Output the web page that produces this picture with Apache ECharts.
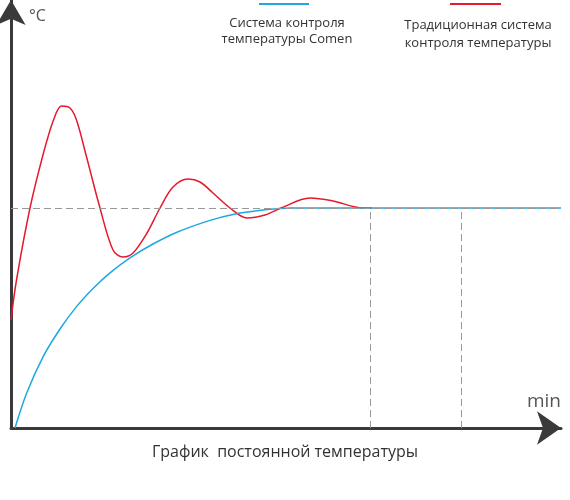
<!DOCTYPE html>
<html>
<head>
<meta charset="utf-8">
<script src="https://cdn.jsdelivr.net/npm/echarts@6/dist/echarts.min.js"></script>
<style>
  html, body { margin: 0; padding: 0; background: #fff; }
  #chart { width: 570px; height: 500px; }
</style>
</head>
<body>
<div id="chart"></div>
<script>
// time (min) / temperature pairs, schematic units
var comenCurve = [
  [0.8, 0], [3.14, 8.75], [6.46, 17.9], [9.8, 24.75], [13.14, 30.4], [16.46, 34.95], [19.8, 38.8],
  [23.8, 42.55], [28.4, 46], [33.2, 48.95], [39.8, 51.9], [44.4, 53.4], [51.2, 54.6],
  [55.8, 55], [70, 55], [90, 55], [110, 55]
];
var classicCurve = [
  [0, 27], [1.1, 37], [3.8, 55], [6.5, 68.75], [8.5, 77], [10.1, 80.5], [11.8, 80],
  [13.1, 77], [15.1, 67.8], [17.8, 55], [20.4, 44.5], [22.4, 42.75], [24.4, 43.75],
  [27.2, 48.75], [29.8, 55], [32.4, 60.25], [35.4, 62.25], [37.8, 61.5], [40.4, 58.75],
  [43.8, 55], [47.2, 52.5], [50.8, 53.25], [54, 55], [59.8, 57.5], [64.4, 56.75],
  [70.4, 55], [72.2, 55]
];
var setpoint = 55;
var markTimes = [71.8, 90];

var seriesNames = ['Система контроля\nтемпературы Comen', 'Традиционная система\nконтроля температуры'];
var chartTitle = 'График  постоянной температуры';
var blue = '#1ea8e0';
var red = '#e6192d';

var chart = echarts.init(document.getElementById('chart'));

var guideLines = [[{ coord: [0, setpoint] }, { coord: [110, setpoint] }]];
markTimes.forEach(function (t) {
  guideLines.push([{ coord: [t, 0] }, { coord: [t, setpoint] }]);
});

chart.setOption({
  animation: false,
  title: {
    text: chartTitle,
    left: 'center',
    top: 439,
    textStyle: { fontFamily: 'Open Sans', fontSize: 16, fontWeight: 'normal', color: '#333' }
  },
  grid: { left: 11, right: 9, top: 0, bottom: 72 },
  xAxis: {
    type: 'value',
    min: 0,
    max: 110,
    name: 'min',
    nameLocation: 'end',
    nameGap: 0,
    nameTextStyle: {
      fontFamily: 'Open Sans', fontSize: 19, color: '#555',
      align: 'right', verticalAlign: 'bottom', padding: [0, 0, 17, 0]
    },
    axisLine: {
      onZero: false,
      symbol: ['none', 'arrow'],
      symbolSize: [25, 24],
      lineStyle: { color: '#3a3a3a', width: 3 }
    },
    axisTick: { show: false },
    axisLabel: { show: false },
    splitLine: { show: false }
  },
  yAxis: {
    type: 'value',
    min: 0,
    max: 107,
    name: '°C',
    nameLocation: 'end',
    nameGap: -24,
    nameTextStyle: {
      fontFamily: 'Open Sans', fontSize: 16, color: '#555',
      align: 'left', padding: [0, 0, 0, 18]
    },
    axisLine: {
      onZero: false,
      symbol: ['none', 'arrow'],
      symbolSize: [22, 25],
      lineStyle: { color: '#3a3a3a', width: 3 }
    },
    axisTick: { show: false },
    axisLabel: { show: false },
    splitLine: { show: false }
  },
  series: [{
    name: seriesNames[1],
    type: 'line',
    data: classicCurve,
    smooth: 0.33,
    showSymbol: false,
    lineStyle: { color: red, width: 1.5 },
    z: 3
  }, {
    name: seriesNames[0],
    type: 'line',
    data: comenCurve,
    smooth: 0.33,
    showSymbol: false,
    lineStyle: { color: blue, width: 1.5 },
    z: 4,
    markLine: {
      silent: true,
      symbol: 'none',
      label: { show: false },
      lineStyle: { color: '#999', type: [7, 4], width: 1 },
      data: guideLines
    }
  }],
  graphic: [
    { type: 'line', shape: { x1: 259, y1: 4, x2: 309, y2: 4 }, style: { stroke: blue, lineWidth: 2 } },
    { type: 'text', x: 287, y: 15, style: {
        text: seriesNames[0], align: 'center', fill: '#333',
        fontFamily: 'Open Sans', fontSize: 13, lineHeight: 16 } },
    { type: 'line', shape: { x1: 450, y1: 4, x2: 501, y2: 4 }, style: { stroke: red, lineWidth: 2 } },
    { type: 'text', x: 478, y: 16, style: {
        text: seriesNames[1], align: 'center', fill: '#333',
        fontFamily: 'Open Sans', fontSize: 13, lineHeight: 18 } }
  ]
});
</script>
</body>
</html>
